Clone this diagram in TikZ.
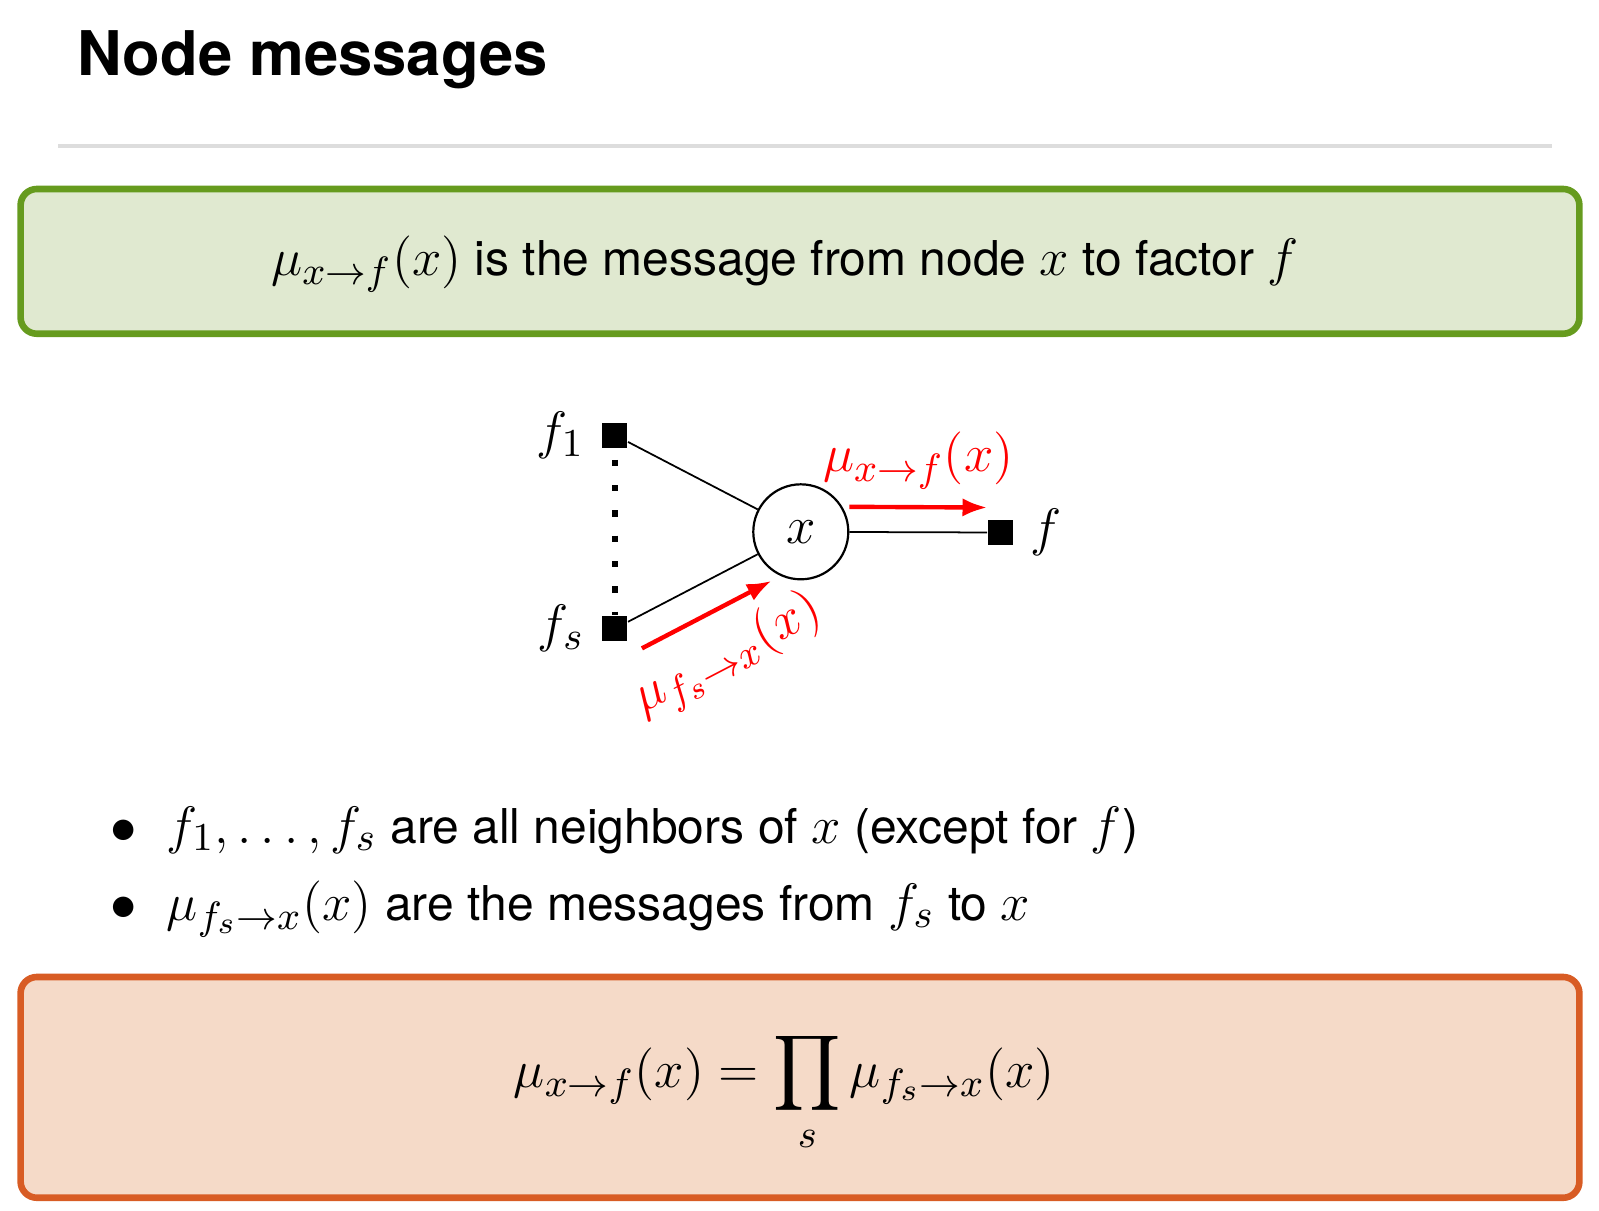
\documentclass[tikz,border=0pt,12pt]{standalone}
\usepackage{amsmath,amssymb}
\usepackage[no-math]{fontspec}
\setmainfont[Scale=0.91]{TeX Gyre Heros}
\usepackage{xcolor}
\usepackage{tikz}
\usetikzlibrary{arrows.meta, positioning, calc}
\DeclareMathSizes{12}{12}{9}{7}
\definecolor{defgreen}{RGB}{102,155,30}
\definecolor{defgreenbg}{RGB}{224,233,208}
\definecolor{ruleorange}{RGB}{216,92,36}
\definecolor{ruleorangebg}{RGB}{245,218,200}
\definecolor{titlegray}{RGB}{221,221,221}

\begin{document}
\begin{tikzpicture}[x=0.08mm, y=-0.08mm,
    factor/.style={rectangle, fill=black, minimum size=2mm, inner sep=0pt},
    var/.style={circle, draw, line width=0.5pt, minimum size=7.6mm, inner sep=0pt},
    msg/.style={-{Latex[length=5.6pt, width=4.2pt]}, red, line width=1pt},
    msglabel/.style={text=red},
    block/.style={rectangle, rounded corners=1.3mm, line width=1.5pt, minimum width=124.7mm},
    body/.style={inner sep=0pt}
]
\useasboundingbox (0,0) rectangle (1599,1210);

% Title and rule
\node[body, anchor=base west, font=\fontsize{15.4}{18}\selectfont\bfseries] (title) at (77,75) {Node messages};
\draw[titlegray, line width=1.1pt] (58,146) -- (1552,146);

% Definition block
\node[block, draw=defgreen, fill=defgreenbg, minimum height=11.58mm] (defbox) at (800,261.35) {};
\node[body, anchor=base] (deftext) at (785,275) {$\mu_{x\to f}(x)$ is the message from node $x$ to factor $f$};

% Factor graph
\node[var] (x) at (800.8,531.8) {$x$};
\node[factor, label=left:$f_1$] (f1) at (614.7,435) {};
\node[factor, label=left:$f_s$] (fs) at (614.7,628.7) {};
\node[factor, label=right:$f$] (f) at (1000.5,532.5) {};

\draw (f1) -- (x);
\draw (fs) -- (x);
\draw (x) -- (f);
\draw[line width=1.4pt, dash pattern=on 1.4pt off 4.36pt, dash phase=3.16pt] (f1) -- (fs);

% Messages
\draw[msg] ([yshift=2mm]x.east) -- ([yshift=2mm]f.west)
    node[msglabel, midway, above] {$\mu_{x\to f}(x)$};
\path (fs) -- (x) coordinate[pos=0] (fsedge) coordinate[pos=1] (xedge);
\draw[msg] ($(fsedge)!2.4mm!-90:(xedge)$) -- ($(xedge)!2.4mm!90:(fsedge)$)
    node[msglabel, midway, sloped, below] {$\mu_{f_s\to x}(x)$};

% Bullets
\node[body, anchor=base] (dot1) at (124,843) {$\bullet$};
\node[body, anchor=base west] (item1) at (166,843) {$f_1,\ldots,f_s$ are all neighbors of $x$ (except for $f$)};
\node[body, anchor=base] (dot2) at (124,920) {$\bullet$};
\node[body, anchor=base west] (item2) at (166,920) {$\mu_{f_s\to x}(x)$ are the messages from $f_s$ to $x$};

% Update rule block
\node[block, draw=ruleorange, fill=ruleorangebg, minimum height=17.66mm] (rulebox) at (800,1087.35) {};
\node[body, anchor=base west] (formula) at (513,1087) {$\displaystyle\mu_{x\to f}(x) = \prod_s \mu_{f_s\to x}(x)$};

\end{tikzpicture}
\end{document}
